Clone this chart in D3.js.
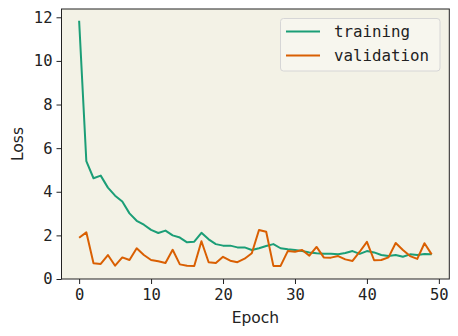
<!DOCTYPE html>
<html><head><meta charset="utf-8">
<script src="https://cdn.jsdelivr.net/npm/d3@7"></script>
<style>body{margin:0;background:#fff}svg{display:block}</style>
</head><body>
<script>
const epochs = d3.range(0, 50);
const training = [11.84,5.41,4.62,4.74,4.19,3.82,3.55,3.01,2.67,2.49,
  2.25,2.11,2.22,2.0,1.90,1.68,1.71,2.12,1.82,1.60,
  1.53,1.53,1.45,1.45,1.33,1.41,1.51,1.60,1.41,1.36,
  1.33,1.28,1.22,1.18,1.16,1.16,1.13,1.19,1.28,1.15,
  1.28,1.22,1.10,1.05,1.10,1.02,1.13,1.10,1.15,1.13];
const validation = [1.89,2.14,0.72,0.69,1.10,0.61,0.99,0.87,1.41,1.10,
  0.87,0.81,0.73,1.34,0.67,0.61,0.60,1.73,0.77,0.73,
  1.02,0.84,0.77,0.93,1.18,2.25,2.17,0.60,0.60,1.28,
  1.25,1.33,1.07,1.47,0.99,0.98,1.05,0.90,0.83,1.25,
  1.70,0.86,0.87,0.99,1.65,1.33,1.05,0.92,1.64,1.13];
const xTicks = [0,10,20,30,40,50];
const yTicks = [0,2,4,6,8,10,12];
const seriesNames = ["training","validation"];
const colors = ["#1b9e77","#d95f02"];

const W = 458, H = 336;
const L = 61.5, R = 449.3, T = 9, B = 279;
const svg = d3.select("body").append("svg").attr("width", W).attr("height", H);

const x = d3.scaleLinear().domain([-2.45, 51.45]).range([L, R]);
const y = d3.scaleLinear().domain([0, 12.38]).range([B, T]);

svg.append("rect").attr("x", L).attr("y", T).attr("width", R - L).attr("height", B - T)
  .attr("fill", "#f3f2e6");

const mono = "'DejaVu Sans Mono', monospace";
const sans = "'DejaVu Sans', sans-serif";

const xAxis = svg.append("g").attr("transform", `translate(0,${B})`)
  .call(d3.axisBottom(x).tickValues(xTicks).tickSize(5).tickPadding(5).tickFormat(d3.format("d")));
const yAxis = svg.append("g").attr("transform", `translate(${L},0)`)
  .call(d3.axisLeft(y).tickValues(yTicks).tickSize(5).tickPadding(4).tickFormat(d3.format("d")));
[xAxis, yAxis].forEach(g => {
  g.select(".domain").remove();
  g.selectAll("line").attr("stroke", "#222").attr("stroke-width", 1);
  g.selectAll("text").attr("font-family", mono).attr("font-size", 15.5).attr("fill", "#222");
});

const line = d3.line().x((d, i) => x(epochs[i])).y(d => y(d));
[training, validation].forEach((s, k) => {
  svg.append("path").datum(s).attr("d", line).attr("fill", "none")
    .attr("stroke", colors[k]).attr("stroke-width", 2).attr("stroke-linejoin", "round");
});

svg.append("rect").attr("x", L).attr("y", T).attr("width", R - L).attr("height", B - T)
  .attr("fill", "none").attr("stroke", "#222").attr("stroke-width", 1);

// legend
const lg = svg.append("g");
lg.append("rect").attr("x", 280.5).attr("y", 18.5).attr("width", 159.5).attr("height", 52.5)
  .attr("rx", 3).attr("fill", "#f7f6ee").attr("stroke", "#d6d6d6").attr("stroke-width", 1);
seriesNames.forEach((n, k) => {
  const yy = 31.5 + k * 24;
  lg.append("line").attr("x1", 286).attr("x2", 320).attr("y1", yy).attr("y2", yy)
    .attr("stroke", colors[k]).attr("stroke-width", 2);
  lg.append("text").attr("x", 334).attr("y", yy).attr("dy", "0.35em")
    .attr("font-family", mono).attr("font-size", 15.8).attr("fill", "#222").text(n);
});

svg.append("text").attr("x", (L + R) / 2).attr("y", 323).attr("text-anchor", "middle")
  .attr("font-family", sans).attr("font-size", 15.5).attr("fill", "#222").text("Epoch");
svg.append("text").attr("transform", `translate(23,${(T + B) / 2}) rotate(-90)`)
  .attr("text-anchor", "middle").attr("font-family", sans).attr("font-size", 15.5)
  .attr("fill", "#222").text("Loss");
</script>
</body></html>
